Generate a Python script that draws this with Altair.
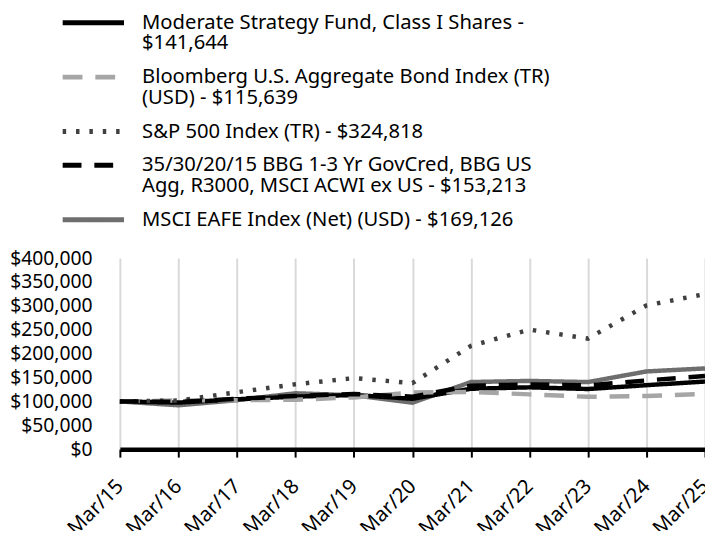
import altair as alt
import pandas as pd

periods = ["Mar/15", "Mar/16", "Mar/17", "Mar/18", "Mar/19", "Mar/20",
           "Mar/21", "Mar/22", "Mar/23", "Mar/24", "Mar/25"]

series_names = [
    "Moderate Strategy Fund, Class I Shares -\n$141,644",
    "Bloomberg U.S. Aggregate Bond Index (TR)\n(USD) - $115,639",
    "S&P 500 Index (TR) - $324,818",
    "35/30/20/15 BBG 1-3 Yr GovCred, BBG US\nAgg, R3000, MSCI ACWI ex US - $153,213",
    "MSCI EAFE Index (Net) (USD) - $169,126",
]

fund = [100000, 97600, 104500, 110000, 113500, 105500, 126500, 129500, 126000, 134000, 141644]
agg = [100000, 101960, 102400, 103600, 108400, 118800, 119700, 114800, 109600, 111400, 115639]
sp500 = [100000, 101780, 119300, 135900, 148800, 138400, 216400, 250300, 231600, 300900, 324818]
blend = [100000, 99000, 105500, 111500, 115500, 110000, 133000, 135500, 133500, 144000, 153213]
eafe = [100000, 91900, 102600, 117100, 112800, 97300, 140600, 142900, 140500, 162800, 169126]

values_by_series = [fund, agg, sp500, blend, eafe]
draw_order = [4, 0, 1, 2, 3]

rows = []
for i in draw_order:
    for p, v in zip(periods, values_by_series[i]):
        rows.append({"period": p, "series": series_names[i], "value": v})
df = pd.DataFrame(rows)

colors = ["#000000", "#a6a6a6", "#404040", "#000000", "#6e6e6e"]
dashes = [[1, 0], [20, 13], [3.5, 10], [19, 13], [1, 0]]

FONT = "Noto Sans"

chart = alt.Chart(df).mark_line(strokeWidth=4.5, strokeCap="butt", strokeJoin="miter").encode(
    x=alt.X("period:O", sort=periods, title=None,
            scale=alt.Scale(type="point", padding=0),
            axis=alt.Axis(labelAngle=-45, labelAlign="right", labelBaseline="middle",
                          labelPadding=26, labelFontSize=20.5, labelFont=FONT, labelColor="#000000",
                          grid=True, gridColor="#d9d9d9", gridWidth=2,
                          domainColor="#000000", domainWidth=4.5,
                          tickColor="#000000", tickWidth=2, tickSize=8)),
    y=alt.Y("value:Q", title=None,
            scale=alt.Scale(domain=[0, 400000], nice=False),
            axis=alt.Axis(values=list(range(0, 400001, 50000)), format="$,.0f",
                          labelFontSize=19.5, labelFont=FONT, labelColor="#000000",
                          labelPadding=28, domain=False, ticks=False, grid=False)),
    color=alt.Color("series:N", sort=series_names,
                    scale=alt.Scale(domain=series_names, range=colors),
                    legend=alt.Legend(title=None, orient="none", legendX=-37, legendY=-248,
                                      direction="vertical", symbolType="M-8,0H8",
                                      symbolSize=60, symbolStrokeWidth=5,
                                      labelFont=FONT, labelFontSize=20.4, labelColor="#000000",
                                      labelBaseline="middle",
                                      labelOffset=39, rowPadding=13, padding=0,
                                      labelLimit=600,
                                      labelExpr="split(datum.label, '\\n')")),
    strokeDash=alt.StrokeDash("series:N", sort=series_names,
                              scale=alt.Scale(domain=series_names, range=dashes),
                              legend=None),
).properties(
    width=591, height=193,
    autosize=alt.AutoSizeParams(type="none"),
    padding={"left": 113, "top": 250, "right": 0, "bottom": 80},
).configure(style={"guide-label": {"lineHeight": 21}}).configure_view(strokeWidth=0)

chart.save("out.html", embed_options={"renderer": "svg", "actions": False})
